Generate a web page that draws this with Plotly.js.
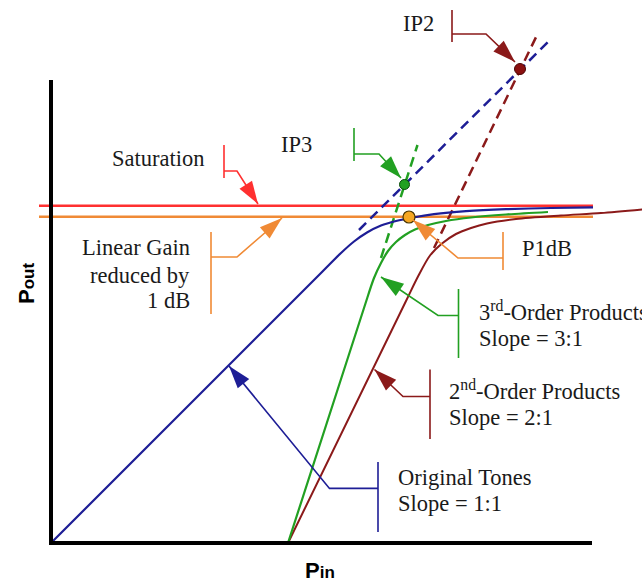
<!DOCTYPE html>
<html><head><meta charset="utf-8">
<script src="https://cdn.plot.ly/plotly-3.0.1.min.js"></script>
<style>html,body{margin:0;padding:0;background:#fff;}#chart{width:642px;height:584px;}</style>
</head><body><div id="chart"></div>
<script>
// ---- Data (Pin on x, Pout on y; arbitrary units, origin at the axes corner) ----
const toneX = [0, 27, 29, 30.3, 31.6, 33.0, 34.5, 36.2, 38.3, 41.5, 45.5, 50, 54.2];
const toneY = [0, 27, 29, 30.15, 31.05, 31.75, 32.2, 32.55, 32.88, 33.18, 33.38, 33.5, 33.57];
const toneExtX = [30.8, 49.8];
const toneExtY = [31.3, 50.2];

const thirdX = [23.7, 31.3, 32.3, 33.0, 33.7, 34.5, 35.4, 36.4, 37.7, 39.5, 42, 45.5, 49.7];
const thirdY = [0, 23.5, 26.5, 28.0, 29.2, 30.1, 30.8, 31.35, 31.8, 32.2, 32.55, 32.85, 33.1];
const thirdExtX = [33.0, 36.65];
const thirdExtY = [28.5, 39.8];

const secondX = [23.7, 35.5, 36.7, 37.9, 39.1, 40.5, 42.0, 43.6, 46.5, 51.0, 55.0, 59.2];
const secondY = [0, 24.2, 26.65, 28.75, 29.95, 30.9, 31.5, 31.95, 32.4, 32.75, 33.0, 33.37];
const secondExtX = [38.3, 48.7];
const secondExtY = [29.5, 51.0];

const satX = [-1.2, 54.2];
const satY = [33.73, 33.73];
const gainX = [-1.2, 54.2];
const gainY = [32.63, 32.63];

const ip2 = [46.9, 47.4];
const ip3 = [35.35, 35.85];
const p1dB = [35.8, 32.6];

const axisTopY = 46.3;
const axisRightX = 54.1;

// Callouts
const calloutNames = ['IP2', 'IP3', 'Saturation', 'Linear Gain', 'P1dB', '3rd', '2nd', 'Tones'];
const calloutColor = ['#8b1a1a', '#22a022', '#ff3030', '#f08a35', '#f08a35', '#22a022', '#8b1a1a', '#1e1e96'];
const calloutBarX  = [40.1, 30.3, 17.3, 16.0, 45.2, 40.75, 37.9, 32.7];
const calloutBarY0 = [53.3, 41.5, 39.8, 31.1, 31.1, 25.4, 17.35, 8.1];
const calloutBarY1 = [50.1, 38.2, 36.5, 22.9, 27.3, 18.5, 10.4, 1.1];
const calloutElbY  = [50.9, 38.9, 37.2, 28.6, 28.5, 22.75, 14.65, 5.46];
const calloutElbX  = [43.5, 32.8, 18.6, 18.6, 40.7, 38.7, 35.2, 27.85];
const calloutTipX  = [46.4, 35.0, 20.7, 23.1, 36.2, 33.0, 32.35, 17.8];
const calloutTipY  = [48.1, 36.5, 33.9, 32.5, 32.3, 26.6, 17.35, 17.7];

// Text labels
const labelText = ['IP2', 'IP3', 'Saturation', 'Linear Gain', 'reduced by', '1 dB', 'P1dB',
  '3<sup>rd</sup>-Order Products', 'Slope = 3:1',
  '2<sup>nd</sup>-Order Products', 'Slope = 2:1',
  'Original Tones', 'Slope = 1:1'];
const labelX = [36.7, 24.5, 10.7, 14.1, 14.1, 14.1, 49.6, 42.6, 42.6, 39.6, 39.6, 34.5, 34.5];
const labelY = [51.95, 39.9, 38.5, 29.6, 26.8, 24.3, 29.5, 23.2, 20.5, 15.3, 12.6, 6.55, 3.95];
const labelAnchor = ['center', 'center', 'center', 'right', 'right', 'right', 'center',
  'left', 'left', 'left', 'left', 'left', 'left'];

const BLUE = '#1e1e96', GREEN = '#22a022', BROWN = '#8b1a1a', RED = '#ff3030', ORANGE = '#f08a35';
const SERIF = 'Liberation Serif, Times New Roman, serif';
const SANS = 'Liberation Sans, Arial, sans-serif';

// arrowheads computed from callout geometry
const headX = [], headY = [], headAngle = [];
for (let i = 0; i < calloutNames.length; i++) {
  headX.push(calloutTipX[i]);
  headY.push(calloutTipY[i]);
  headAngle.push(Math.atan2(calloutTipX[i] - calloutElbX[i], calloutTipY[i] - calloutElbY[i]) * 180 / Math.PI);
}

const traces = [
  {x: satX, y: satY, mode: 'lines', line: {color: RED, width: 2.5}},
  {x: gainX, y: gainY, mode: 'lines', line: {color: ORANGE, width: 2.5}},
  {x: toneExtX, y: toneExtY, mode: 'lines', line: {color: BLUE, width: 2.5, dash: '10px,6px'}},
  {x: thirdExtX, y: thirdExtY, mode: 'lines', line: {color: GREEN, width: 2.5, dash: '10px,6px'}},
  {x: secondExtX, y: secondExtY, mode: 'lines', line: {color: BROWN, width: 2.5, dash: '10px,6px'}},
  {x: secondX, y: secondY, mode: 'lines', line: {color: BROWN, width: 2, shape: 'spline', smoothing: 0.8}},
  {x: thirdX, y: thirdY, mode: 'lines', line: {color: GREEN, width: 2.2, shape: 'spline', smoothing: 0.8}},
  {x: toneX, y: toneY, mode: 'lines', line: {color: BLUE, width: 2.2, shape: 'spline', smoothing: 0.8}},
  {x: headX, y: headY, mode: 'markers',
   marker: {symbol: 'arrow', size: 24, angle: headAngle, color: calloutColor, line: {width: 0}}},
  {x: [ip2[0]], y: [ip2[1]], mode: 'markers', marker: {color: '#8b1010', size: 11, line: {color: '#4a0505', width: 1}}},
  {x: [ip3[0]], y: [ip3[1]], mode: 'markers', marker: {color: '#22a022', size: 10, line: {color: '#0b4a0b', width: 1}}},
  {x: [p1dB[0]], y: [p1dB[1]], mode: 'markers', marker: {color: '#f5a623', size: 12, line: {color: '#4a3500', width: 1.2}}}
];

const shapes = [{
  type: 'path', xref: 'x', yref: 'y',
  path: 'M 0 ' + axisTopY + ' L 0 0 L ' + axisRightX + ' 0',
  line: {color: '#000', width: 4}
}];
for (let i = 0; i < calloutNames.length; i++) {
  shapes.push({
    type: 'path', xref: 'x', yref: 'y',
    path: 'M ' + calloutBarX[i] + ' ' + calloutBarY0[i] + ' L ' + calloutBarX[i] + ' ' + calloutBarY1[i] +
          ' M ' + calloutBarX[i] + ' ' + calloutElbY[i] + ' L ' + calloutElbX[i] + ' ' + calloutElbY[i] +
          ' L ' + calloutTipX[i] + ' ' + calloutTipY[i],
    line: {color: calloutColor[i], width: 1.6}
  });
}
const annotations = [];
for (let i = 0; i < labelText.length; i++) {
  annotations.push({
    x: labelX[i], y: labelY[i], xref: 'x', yref: 'y', text: labelText[i],
    showarrow: false, xanchor: labelAnchor[i], yanchor: 'middle',
    font: {family: SERIF, size: 22.5, color: '#1a1a1a'}
  });
}
annotations.push({
  x: -2.5, y: 25.9, xref: 'x', yref: 'y', showarrow: false, textangle: -90,
  text: '<b>P<span style="font-size:17px">out</span></b>',
  font: {family: SANS, size: 22, color: '#000'}
});
annotations.push({
  x: 26.9, y: -2.75, xref: 'x', yref: 'y', showarrow: false,
  text: '<b>P<span style="font-size:17px">in</span></b>',
  font: {family: SANS, size: 22, color: '#000'}
});

const layout = {
  width: 642, height: 584,
  margin: {l: 0, r: 0, t: 0, b: 0},
  paper_bgcolor: '#fff', plot_bgcolor: '#fff',
  showlegend: false,
  xaxis: {range: [-5.1, 59.1], visible: false, fixedrange: true},
  yaxis: {range: [-4.1, 54.3], visible: false, fixedrange: true},
  shapes: shapes,
  annotations: annotations
};
Plotly.newPlot('chart', traces, layout, {staticPlot: true, displayModeBar: false});
</script>
</body></html>
